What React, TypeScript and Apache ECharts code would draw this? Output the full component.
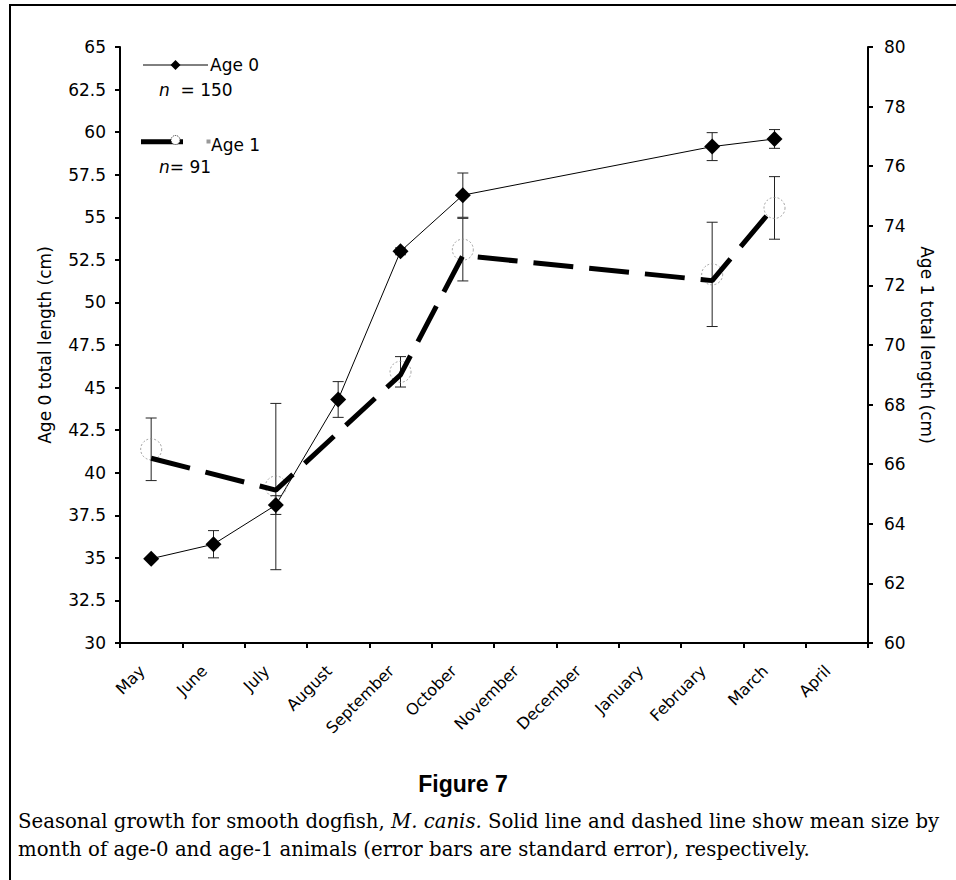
import React, { useEffect, useRef } from "react";
import * as echarts from "echarts";

const months = ["May", "June", "July", "August", "September", "October", "November", "December", "January", "February", "March", "April"];
const age0Mean = [34.95, 35.8, 38.1, 44.3, 53.0, 56.3, null, null, null, 59.15, 59.6, null];
const age0SE = [0, 0.8, 0.55, 1.05, 0.2, 1.3, null, null, null, 0.82, 0.55, null];
const age1Mean = [66.5, null, 65.25, null, 69.1, 73.2, null, null, null, 72.37, 74.6, null];
const age1SE = [1.05, null, 2.79, null, 0.51, 1.05, null, null, null, 1.75, 1.05, null];
const age1Line = [66.2, null, 65.13, null, 69.0, 73.0, null, null, null, 72.16, 74.65, null];
const leftTicks = { min: 30, max: 65, interval: 2.5 };
const rightTicks = { min: 60, max: 80, interval: 2 };

const SANS = "'DejaVu Sans', 'Liberation Sans', sans-serif";
const SERIF = "'DejaVu Serif', serif";

function errData(mean: (number | null)[], se: (number | null)[]) {
  const out: number[][] = [];
  mean.forEach((m, i) => {
    const s = se[i];
    if (m != null && s != null && s > 0) out.push([i, m - s, m + s]);
  });
  return out;
}

function errRender(params: any, api: any) {
  const x = api.value(0);
  const lo = api.coord([x, api.value(1)]);
  const hi = api.coord([x, api.value(2)]);
  const cap = 5.5;
  const st = { stroke: "#222", lineWidth: 1 };
  return {
    type: "group",
    children: [
      { type: "line", shape: { x1: lo[0], y1: lo[1], x2: hi[0], y2: hi[1] }, style: st },
      { type: "line", shape: { x1: hi[0] - cap, y1: hi[1], x2: hi[0] + cap, y2: hi[1] }, style: st },
      { type: "line", shape: { x1: lo[0] - cap, y1: lo[1], x2: lo[0] + cap, y2: lo[1] }, style: st },
    ],
  };
}

export default function App() {
  const ref = useRef<HTMLDivElement>(null);
  useEffect(() => {
    if (!ref.current) return;
    const chart = echarts.init(ref.current, null, { renderer: "svg" });
    const axisCommon = {
      axisLine: { show: true, lineStyle: { color: "#000", width: 2 } },
      axisTick: { show: true, length: 5, lineStyle: { color: "#000", width: 2 } },
      splitLine: { show: false },
      nameLocation: "middle",
      nameTextStyle: { fontFamily: SANS, fontSize: 17, color: "#000" },
    };
    chart.setOption({
      animation: false,
      backgroundColor: "#fff",
      grid: { left: 120, right: 88, top: 47, bottom: 237, containLabel: false },
      xAxis: {
        type: "category",
        data: months,
        boundaryGap: true,
        axisLine: { show: true, lineStyle: { color: "#000", width: 2 } },
        axisTick: { show: true, length: 5, alignWithLabel: false, interval: 0, lineStyle: { color: "#000", width: 2 } },
        axisLabel: { interval: 0, rotate: 45, fontFamily: SANS, fontSize: 16, color: "#000", margin: 16, padding: [0, 13, 0, 0] },
        splitLine: { show: false },
      },
      yAxis: [
        {
          ...axisCommon,
          type: "value",
          position: "left",
          min: leftTicks.min,
          max: leftTicks.max,
          interval: leftTicks.interval,
          name: "Age 0 total length (cm)",
          nameGap: 67,
          axisLabel: { fontFamily: SANS, fontSize: 17, color: "#000", margin: 14 },
        },
        {
          ...axisCommon,
          type: "value",
          position: "right",
          min: rightTicks.min,
          max: rightTicks.max,
          interval: rightTicks.interval,
          name: "Age 1 total length (cm)",
          nameRotate: -90,
          nameGap: 50,
          axisLabel: { fontFamily: SANS, fontSize: 17, color: "#000", margin: 16 },
        },
      ],
      series: [
        {
          type: "custom",
          name: "Age 0 SE",
          yAxisIndex: 0,
          renderItem: errRender,
          data: errData(age0Mean, age0SE),
          encode: { x: 0, y: [1, 2] },
          z: 2,
        },
        {
          type: "custom",
          name: "Age 1 SE",
          yAxisIndex: 1,
          renderItem: errRender,
          data: errData(age1Mean, age1SE),
          encode: { x: 0, y: [1, 2] },
          z: 2,
        },
        {
          type: "line",
          name: "Age 0",
          yAxisIndex: 0,
          data: age0Mean,
          connectNulls: true,
          symbol: "diamond",
          symbolSize: 16,
          itemStyle: { color: "#000" },
          lineStyle: { color: "#000", width: 1 },
          z: 3,
        },
        {
          type: "scatter",
          name: "Age 1",
          yAxisIndex: 1,
          data: age1Mean,
          symbol: "circle",
          symbolSize: 21,
          itemStyle: { color: "rgba(255,255,255,0)", borderColor: "#8a8a8a", borderWidth: 1, borderType: [2, 2] },
          z: 4,
        },
        {
          type: "line",
          name: "Age 1 line",
          yAxisIndex: 1,
          data: age1Line,
          connectNulls: true,
          symbol: "none",
          lineStyle: { color: "#000", width: 5, type: [40, 16], cap: "butt" },
          z: 5,
        },
      ],
      graphic: [
        { type: "rect", shape: { x: 10, y: 5, width: 1000, height: 1000 }, style: { fill: "none", stroke: "#000", lineWidth: 2 } },
        { type: "line", shape: { x1: 143, y1: 65, x2: 208, y2: 65 }, style: { stroke: "#000", lineWidth: 1 } },
        { type: "polygon", shape: { points: [[175.5, 60], [180.5, 65], [175.5, 70], [170.5, 65]] }, style: { fill: "#000" } },
        { type: "text", x: 210, y: 65, style: { text: "Age 0", fontFamily: SANS, fontSize: 17, fill: "#000", verticalAlign: "middle" } },
        {
          type: "text", x: 159, y: 90,
          style: {
            text: "{i|n}  = 150", fontFamily: SANS, fontSize: 17, fill: "#000", verticalAlign: "middle",
            rich: { i: { fontStyle: "italic", fontFamily: SANS, fontSize: 17, fill: "#000" } },
          },
        },
        { type: "line", shape: { x1: 141, y1: 141.7, x2: 183, y2: 141.7 }, style: { stroke: "#000", lineWidth: 5 } },
        { type: "circle", shape: { cx: 175.5, cy: 140, r: 4.5 }, style: { fill: "#fff", stroke: "#222", lineWidth: 1, lineDash: [1, 1] } },
        { type: "rect", shape: { x: 206.5, y: 139.5, width: 4, height: 4 }, style: { fill: "#999" } },
        { type: "text", x: 211, y: 145, style: { text: "Age 1", fontFamily: SANS, fontSize: 17, fill: "#000", verticalAlign: "middle" } },
        {
          type: "text", x: 159, y: 167,
          style: {
            text: "{i|n}= 91", fontFamily: SANS, fontSize: 17, fill: "#000", verticalAlign: "middle",
            rich: { i: { fontStyle: "italic", fontFamily: SANS, fontSize: 17, fill: "#000" } },
          },
        },
        { type: "text", x: 463, y: 784, style: { text: "Figure 7", fontFamily: "'Liberation Sans', Arial, sans-serif", fontWeight: "bold", fontSize: 23, fill: "#000", align: "center", verticalAlign: "middle" } },
        {
          type: "text", x: 18, y: 821,
          style: {
            text: "Seasonal growth for smooth dogfish, {i|M. canis.} Solid line and dashed line show mean size by",
            fontFamily: SERIF, fontSize: 19.7, fill: "#000", verticalAlign: "middle",
            rich: { i: { fontStyle: "italic", fontFamily: SERIF, fontSize: 19.7, fill: "#000" } },
          },
        },
        {
          type: "text", x: 18, y: 849,
          style: { text: "month of age-0 and age-1 animals (error bars are standard error), respectively.", fontFamily: SERIF, fontSize: 19.7, fill: "#000", verticalAlign: "middle" },
        },
      ],
    });
    return () => chart.dispose();
  }, []);
  return <div ref={ref} style={{ position: "absolute", left: 0, top: 0, width: 956, height: 880 }} />;
}
